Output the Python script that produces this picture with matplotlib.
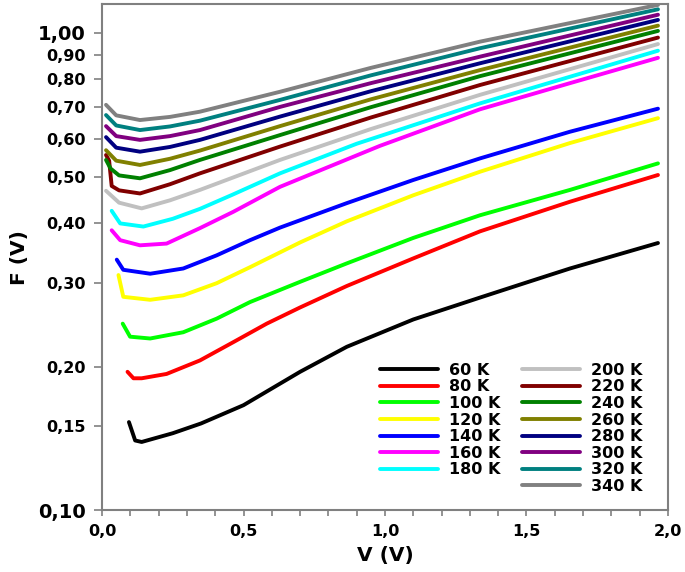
import numpy as np
import matplotlib
matplotlib.use('Agg')
from matplotlib import pyplot as plt
from matplotlib import ticker
from matplotlib.lines import Line2D

plt.rcParams['font.family'] = ['DejaVu Sans']
plt.rcParams['font.weight'] = 'bold'

# temperatures and colours
temps = [60, 80, 100, 120, 140, 160, 180, 200, 220, 240, 260, 280, 300, 320, 340]
colors = ['#000000', '#ff0000', '#00ff00', '#ffff00', '#0000ff', '#ff00ff', '#00ffff',
          '#c0c0c0', '#800000', '#008000', '#808000', '#000080', '#800080', '#008080', '#808080']

# V (V) / F (V), one pair per temperature
v60 = [0.095, 0.117, 0.14, 0.25, 0.35, 0.5, 0.7, 0.865, 1.1, 1.336, 1.5, 1.654, 1.965]
f60 = [0.153, 0.140, 0.139, 0.145, 0.152, 0.166, 0.195, 0.220, 0.251, 0.279, 0.300, 0.321, 0.363]

v80 = [0.09, 0.111, 0.14, 0.228, 0.346, 0.464, 0.582, 0.70, 0.865, 1.10, 1.336, 1.654, 1.965]
f80 = [0.195, 0.189, 0.189, 0.193, 0.206, 0.225, 0.246, 0.266, 0.295, 0.337, 0.384, 0.443, 0.504]

v100 = [0.073, 0.099, 0.17, 0.287, 0.405, 0.523, 0.70, 0.865, 1.10, 1.336, 1.654, 1.965]
f100 = [0.246, 0.231, 0.229, 0.236, 0.252, 0.273, 0.301, 0.329, 0.372, 0.415, 0.469, 0.533]

v120 = [0.058, 0.075, 0.17, 0.287, 0.405, 0.523, 0.70, 0.865, 1.10, 1.336, 1.654, 1.965]
f120 = [0.311, 0.280, 0.276, 0.282, 0.299, 0.323, 0.364, 0.403, 0.457, 0.512, 0.588, 0.663]

v140 = [0.052, 0.075, 0.17, 0.287, 0.405, 0.523, 0.629, 0.865, 1.10, 1.336, 1.654, 1.965]
f140 = [0.335, 0.319, 0.313, 0.321, 0.342, 0.368, 0.391, 0.440, 0.492, 0.546, 0.621, 0.694]

v160 = [0.034, 0.064, 0.134, 0.228, 0.346, 0.464, 0.629, 0.982, 1.336, 1.654, 1.965]
f160 = [0.386, 0.368, 0.359, 0.362, 0.390, 0.422, 0.476, 0.580, 0.692, 0.785, 0.887]

v180 = [0.034, 0.064, 0.146, 0.25, 0.346, 0.46, 0.629, 0.9, 1.336, 1.965]
f180 = [0.424, 0.399, 0.393, 0.408, 0.428, 0.458, 0.508, 0.586, 0.712, 0.918]

v200 = [0.014, 0.06, 0.14, 0.24, 0.346, 0.629, 0.95, 1.336, 1.965]
f200 = [0.467, 0.441, 0.429, 0.446, 0.469, 0.542, 0.629, 0.742, 0.948]

v220 = [0.014, 0.025, 0.034, 0.06, 0.134, 0.24, 0.346, 0.629, 0.95, 1.336, 1.965]
f220 = [0.555, 0.540, 0.478, 0.468, 0.461, 0.482, 0.508, 0.578, 0.665, 0.778, 0.978]

v240 = [0.014, 0.03, 0.06, 0.134, 0.24, 0.346, 0.629, 0.95, 1.336, 1.965]
f240 = [0.542, 0.520, 0.503, 0.496, 0.516, 0.542, 0.611, 0.699, 0.812, 1.010]

v_hi = [0.014, 0.05, 0.134, 0.24, 0.346, 0.629, 0.95, 1.336, 1.965]
f260 = [0.568, 0.540, 0.529, 0.545, 0.567, 0.638, 0.726, 0.836, 1.036]
f280 = [0.605, 0.575, 0.564, 0.577, 0.597, 0.668, 0.755, 0.864, 1.065]
f300 = [0.638, 0.608, 0.597, 0.608, 0.626, 0.700, 0.785, 0.892, 1.092]
f320 = [0.673, 0.640, 0.626, 0.637, 0.655, 0.724, 0.815, 0.929, 1.121]
f340 = [0.707, 0.672, 0.657, 0.667, 0.684, 0.753, 0.845, 0.959, 1.145]

series = [(v60, f60), (v80, f80), (v100, f100), (v120, f120), (v140, f140),
          (v160, f160), (v180, f180), (v200, f200), (v220, f220), (v240, f240),
          (v_hi, f260), (v_hi, f280), (v_hi, f300), (v_hi, f320), (v_hi, f340)]

yticks = [0.10, 0.15, 0.20, 0.30, 0.40, 0.50, 0.60, 0.70, 0.80, 0.90, 1.00]

fig = plt.figure(figsize=(6.85, 5.72), dpi=100)
ax = fig.add_axes([0.149, 0.108, 0.826, 0.885])

lines = []
for (v, f), t, c in zip(series, temps, colors):
    ln, = ax.plot(v, f, color=c, lw=2.8, solid_capstyle='round',
                  solid_joinstyle='round', label=f'{t} K')
    lines.append(ln)

ax.set_yscale('log')
ax.set_xlim(0, 2.0)
ax.set_ylim(0.1, 1.15)

ax.yaxis.set_major_locator(ticker.FixedLocator(yticks))
ax.yaxis.set_minor_locator(ticker.NullLocator())
ax.yaxis.set_major_formatter(ticker.FuncFormatter(lambda y, p: f'{y:.2f}'.replace('.', ',')))
ax.xaxis.set_major_locator(ticker.MultipleLocator(0.5))
ax.xaxis.set_minor_locator(ticker.MultipleLocator(0.1))
ax.xaxis.set_major_formatter(ticker.FuncFormatter(lambda x, p: f'{x:.1f}'.replace('.', ',')))

ax.tick_params(axis='both', which='both', direction='out', color='#808080', width=1.2)
ax.tick_params(axis='y', length=6, labelsize=11.5, pad=6)
ax.tick_params(axis='x', which='both', length=4, labelsize=11.5, pad=6)
for lbl in ax.get_yticklabels():
    lbl.set_fontweight('bold')
    if lbl.get_text() in ('1,00', '0,10'):
        lbl.set_fontsize(14)
for lbl in ax.get_xticklabels():
    lbl.set_fontweight('bold')

for sp in ax.spines.values():
    sp.set_color('#808080')
    sp.set_linewidth(1.5)

ax.set_xlabel('V (V)', fontsize=14.5, fontweight='bold', labelpad=5)
ax.set_ylabel('F (V)', fontsize=14.5, fontweight='bold', labelpad=6)

# 7 entries in the first column, 8 in the second
blank = Line2D([], [], color='none')
handles = lines[:7] + [blank] + lines[7:]
labels = [l.get_label() for l in lines[:7]] + [''] + [l.get_label() for l in lines[7:]]
ax.legend(handles, labels, ncol=2, loc='lower right', bbox_to_anchor=(0.975, 0.01),
          frameon=False, prop={'weight': 'bold', 'size': 11.5},
          handlelength=3.6, handletextpad=0.7, labelspacing=0.1, columnspacing=1.4,
          borderpad=0.2)

fig.savefig('out.png', dpi=100)
